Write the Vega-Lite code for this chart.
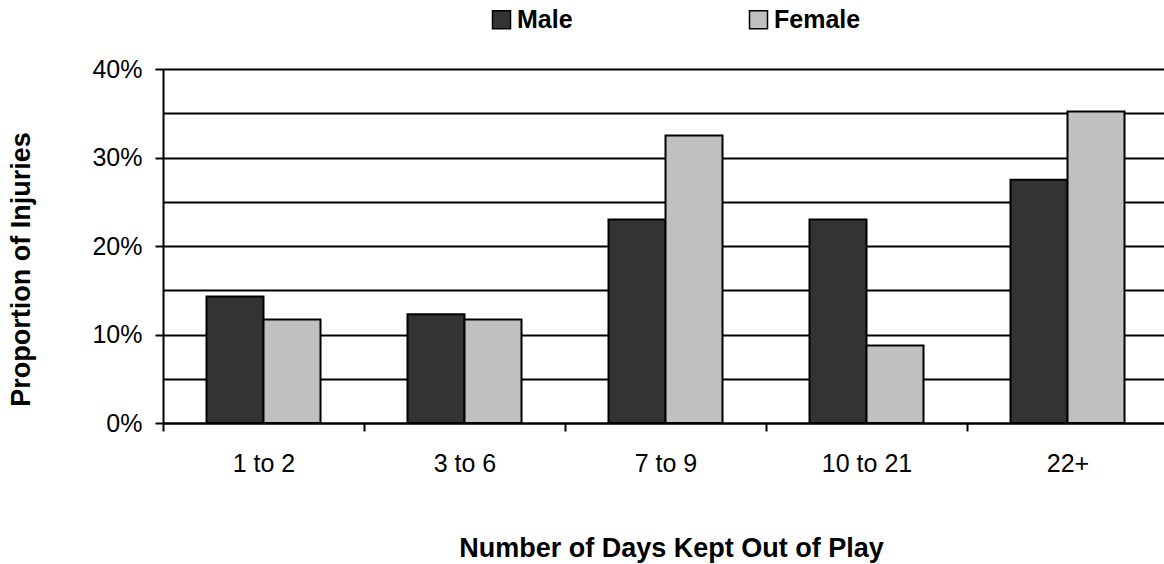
{
  "$schema": "https://vega.github.io/schema/vega-lite/v6.json",
  "width": 1005,
  "height": 354,
  "autosize": {"type": "none"},
  "padding": {"left": 163, "top": 69, "right": 0, "bottom": 141},
  "background": "white",
  "config": {
    "view": {"stroke": null},
    "font": "Liberation Sans",
    "axis": {"labelFont": "Liberation Sans", "titleFont": "Liberation Sans", "labelColor": "black", "titleColor": "black"}
  },
  "data": {
    "values": [
      {"days": "1 to 2", "sex": "Male", "p": 0.143},
      {"days": "1 to 2", "sex": "Female", "p": 0.117},
      {"days": "3 to 6", "sex": "Male", "p": 0.123},
      {"days": "3 to 6", "sex": "Female", "p": 0.117},
      {"days": "7 to 9", "sex": "Male", "p": 0.230},
      {"days": "7 to 9", "sex": "Female", "p": 0.325},
      {"days": "10 to 21", "sex": "Male", "p": 0.230},
      {"days": "10 to 21", "sex": "Female", "p": 0.0875},
      {"days": "22+", "sex": "Male", "p": 0.275},
      {"days": "22+", "sex": "Female", "p": 0.352}
    ]
  },
  "mark": {"type": "bar", "stroke": "black", "strokeWidth": 2, "opacity": 1},
  "encoding": {
    "x": {
      "field": "days", "type": "nominal", "sort": null,
      "scale": {"paddingInner": 0, "paddingOuter": 0},
      "axis": {
        "title": "Number of Days Kept Out of Play",
        "titleFontSize": 27, "titleFontWeight": "bold",
        "titleBaseline": "alphabetic", "titleX": 508, "titleY": 133,
        "labelFontSize": 25, "labelAngle": 0, "labelBaseline": "alphabetic", "labelPadding": 40,
        "tickBand": "extent", "tickSize": 8, "tickWidth": 2, "tickColor": "black",
        "domainColor": "black", "domainWidth": 2, "grid": false
      }
    },
    "xOffset": {"field": "sex", "type": "nominal", "sort": ["Male", "Female"], "scale": {"paddingInner": 0, "paddingOuter": 0.763}},
    "y": {
      "field": "p", "type": "quantitative",
      "scale": {"domain": [0, 0.4], "nice": false, "zero": true},
      "axis": {
        "title": "Proportion of Injuries",
        "titleFontSize": 27, "titleFontWeight": "bold",
        "titleBaseline": "alphabetic", "titleX": -134, "titleY": 200, "titleAngle": -90,
        "values": [0, 0.05, 0.1, 0.15, 0.2, 0.25, 0.3, 0.35, 0.4],
        "format": ".0%",
        "labelExpr": "round(datum.value*100) % 10 == 0 ? datum.label : ''",
        "labelFontSize": 25, "labelPadding": 13,
        "tickSize": 8, "tickWidth": 2, "tickColor": "black",
        "tickOpacity": {"condition": {"test": "round(datum.value*100) % 10 != 0", "value": 0}, "value": 1},
        "domainColor": "black", "domainWidth": 2,
        "grid": true, "gridColor": "black", "gridWidth": 2, "gridOpacity": 1
      }
    },
    "color": {
      "field": "sex", "type": "nominal",
      "scale": {"domain": ["Male", "Female"], "range": ["#333333", "#C0C0C0"]},
      "legend": {
        "title": null, "orient": "none", "legendX": 326, "legendY": -62,
        "direction": "horizontal", "padding": 0,
        "symbolType": "square", "symbolSize": 324, "symbolStrokeColor": "black", "symbolStrokeWidth": 1.5,
        "symbolOpacity": 1,
        "labelFontSize": 25, "labelFontWeight": "bold", "labelColor": "black", "labelFont": "Liberation Sans",
        "labelOffset": 3, "columnPadding": 173
      }
    }
  }
}
